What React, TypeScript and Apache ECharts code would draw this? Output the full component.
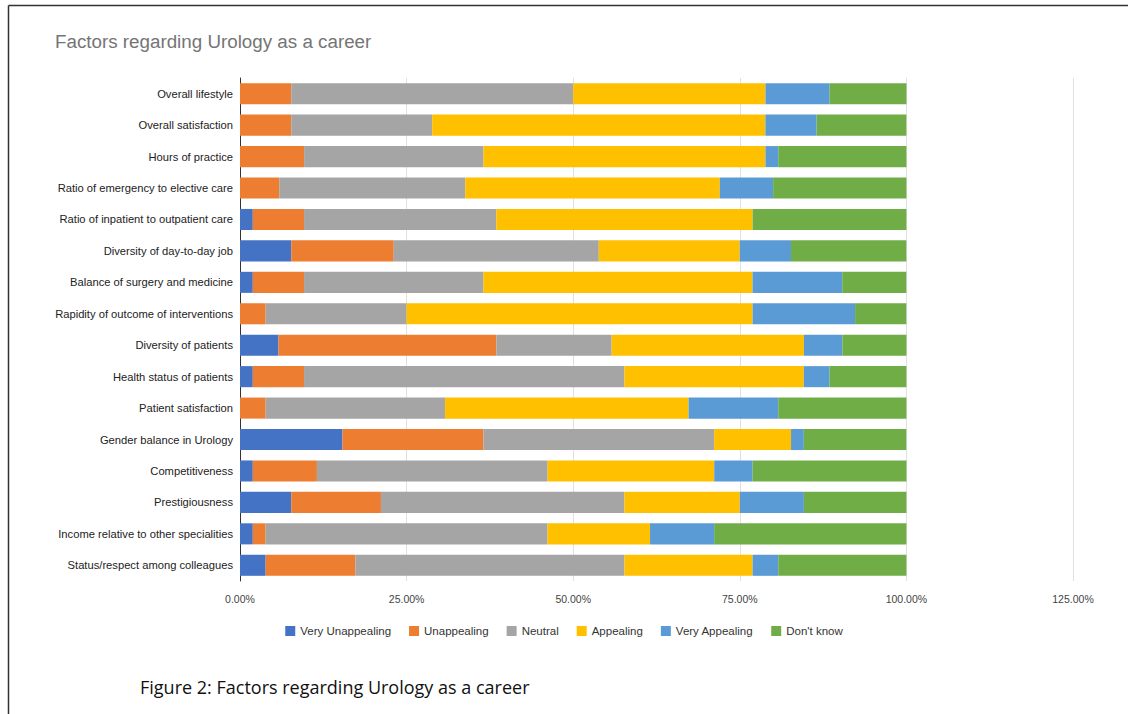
import React, { useEffect, useRef } from "react";
import * as echarts from "echarts";

const categories = [
  "Overall lifestyle",
  "Overall satisfaction",
  "Hours of practice",
  "Ratio of emergency to elective care",
  "Ratio of inpatient to outpatient care",
  "Diversity of day-to-day job",
  "Balance of surgery and medicine",
  "Rapidity of outcome of interventions",
  "Diversity of patients",
  "Health status of patients",
  "Patient satisfaction",
  "Gender balance in Urology",
  "Competitiveness",
  "Prestigiousness",
  "Income relative to other specialities",
  "Status/respect among colleagues",
];

const veryUnappealing = [0, 0, 0, 0, 1.92, 7.69, 1.92, 0, 5.77, 1.92, 0, 15.38, 1.92, 7.69, 1.92, 3.85];
const unappealing = [7.69, 7.69, 9.62, 5.9, 7.69, 15.38, 7.69, 3.85, 32.69, 7.69, 3.85, 21.15, 9.62, 13.46, 1.92, 13.46];
const neutral = [42.31, 21.15, 26.92, 27.9, 28.85, 30.77, 26.92, 21.15, 17.31, 48.08, 26.92, 34.62, 34.62, 36.54, 42.31, 40.38];
const appealing = [28.85, 50.0, 42.31, 38.2, 38.46, 21.15, 40.38, 51.92, 28.85, 26.92, 36.54, 11.54, 25.0, 17.31, 15.38, 19.23];
const veryAppealing = [9.62, 7.69, 1.92, 8.0, 0, 7.69, 13.46, 15.38, 5.77, 3.85, 13.46, 1.92, 5.77, 9.62, 9.62, 3.85];
const dontKnow = [11.54, 13.46, 19.23, 20.0, 23.08, 17.31, 9.62, 7.69, 9.62, 11.54, 19.23, 15.38, 23.08, 15.38, 28.85, 19.23];

const seriesNames = ["Very Unappealing", "Unappealing", "Neutral", "Appealing", "Very Appealing", "Don't know"];
const seriesColors = ["#4472C4", "#ED7D31", "#A5A5A5", "#FFC000", "#5B9BD5", "#70AD47"];
const seriesData = [veryUnappealing, unappealing, neutral, appealing, veryAppealing, dontKnow];

const xTicks = { min: 0, max: 125, interval: 25 };

const chartTitle = "Factors regarding Urology as a career";
const caption = "Figure 2: Factors regarding Urology as a career";

export default function App() {
  const ref = useRef<HTMLDivElement>(null);

  useEffect(() => {
    document.body.style.margin = "0";
    if (!ref.current) return;
    const chart = echarts.init(ref.current, null, { renderer: "svg" });
    const font = "'Liberation Sans', Arial, sans-serif";
    chart.setOption({
      animation: false,
      backgroundColor: "#ffffff",
      textStyle: { fontFamily: font },
      grid: { left: 240, right: 55, top: 78, bottom: 133, containLabel: false },
      legend: {
        data: seriesNames,
        left: "center",
        top: 620,
        icon: "rect",
        itemWidth: 10,
        itemHeight: 10,
        itemGap: 18,
        textStyle: { fontSize: 11.5, color: "#333", fontFamily: font },
      },
      xAxis: {
        type: "value",
        min: xTicks.min,
        max: xTicks.max,
        interval: xTicks.interval,
        axisLine: { show: false },
        axisTick: { show: false },
        splitLine: { show: true, lineStyle: { color: "#e0e0e0", width: 1 } },
        axisLabel: {
          formatter: (v: number) => v.toFixed(2) + "%",
          fontSize: 10.5,
          color: "#444",
          margin: 12,
        },
      },
      yAxis: {
        type: "category",
        data: categories,
        inverse: true,
        axisLine: { show: true, lineStyle: { color: "#333", width: 1 } },
        axisTick: { show: false },
        axisLabel: { fontSize: 11.2, color: "#222", margin: 7 },
      },
      series: seriesNames.map((name, i) => ({
        name,
        type: "bar",
        stack: "total",
        barCategoryGap: "33%",
        itemStyle: { color: seriesColors[i] },
        data: seriesData[i],
      })),
      graphic: [
        {
          type: "line",
          shape: { x1: 8.5, y1: 5.5, x2: 1128, y2: 5.5 },
          style: { stroke: "#333", lineWidth: 1.5 },
        },
        {
          type: "line",
          shape: { x1: 8.5, y1: 5.5, x2: 8.5, y2: 714 },
          style: { stroke: "#333", lineWidth: 1.5 },
        },
        {
          type: "text",
          left: 55,
          top: 32,
          style: { text: chartTitle, fontSize: 18.8, fill: "#757575", fontFamily: font },
        },
        {
          type: "text",
          left: 140,
          top: 678,
          style: {
            text: caption,
            fontSize: 18,
            fill: "#111",
            fontFamily: "'Liberation Sans Narrow', 'Open Sans', sans-serif",
          },
        },
      ],
    });
    return () => chart.dispose();
  }, []);

  return <div ref={ref} style={{ width: 1128, height: 714 }} />;
}
